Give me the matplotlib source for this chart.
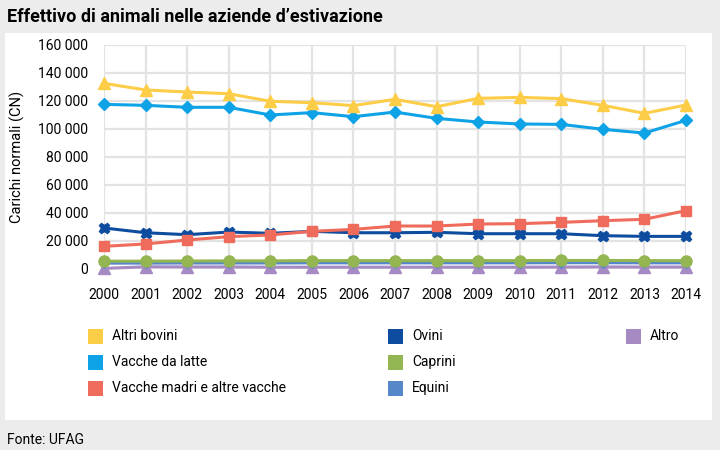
import matplotlib
matplotlib.use("Agg")
import matplotlib.pyplot as plt
from matplotlib.patches import Rectangle
from matplotlib.ticker import FuncFormatter, MultipleLocator
from matplotlib import font_manager

names = {f.name for f in font_manager.fontManager.ttflist}
FAM = ['Liberation Sans Narrow', 'DejaVu Sans'] if 'Liberation Sans Narrow' in names else ['Roboto', 'DejaVu Sans']
plt.rcParams['font.family'] = FAM

years = list(range(2000, 2015))
altri_bovini = [132600, 127900, 126400, 125200, 119800, 118800, 116700, 121200, 115900, 121900, 122600, 121700, 116900, 111200, 117100]
vacche_latte = [117600, 116900, 115500, 115500, 110000, 111700, 108800, 112100, 107600, 105000, 103600, 103300, 99800, 97100, 106200]
vacche_madri = [16200, 17900, 20700, 23100, 24300, 26900, 28300, 30700, 30700, 32100, 32400, 33300, 34500, 35500, 41700]
ovini = [29300, 25900, 24500, 26400, 25500, 26900, 25900, 25900, 26200, 25200, 25200, 25200, 23800, 23300, 23300]
caprini = [5600, 5600, 5700, 5800, 5800, 6000, 6000, 6000, 6000, 6000, 6000, 6100, 6100, 6000, 6000]
equini = [4200, 4200, 4300, 4300, 4300, 4400, 4400, 4400, 4400, 4400, 4400, 4500, 4500, 4400, 4400]
altro = [400, 1600, 1500, 1500, 1300, 1300, 1300, 1300, 1300, 1300, 1300, 1400, 1500, 1400, 1400]

series = [
    ("Altri bovini", altri_bovini, "#FDCD48", "^", 8.5),
    ("Vacche da latte", vacche_latte, "#0EA3E6", "D", 6),
    ("Vacche madri e altre vacche", vacche_madri, "#EF6B5B", "s", 7.5),
    ("Ovini", ovini, "#0D4C9E", "X", 7.5),
    ("Caprini", caprini, "#93B652", "o", 8),
    ("Equini", equini, "#5587C9", "D", 5),
    ("Altro", altro, "#A68AC3", "^", 8.5),
]
draw_order = [6, 5, 4, 3, 2, 1, 0]

W, H = 720, 450
fig = plt.figure(figsize=(7.2, 4.5), dpi=100, facecolor="#ECECEC")
fig.patches.append(Rectangle((5 / W, 1 - 420 / H), 707 / W, 387 / H, transform=fig.transFigure,
                             facecolor="white", edgecolor="none", zorder=-10))

ax = fig.add_axes([104 / W, 1 - 269 / H, (686 - 104) / W, (269 - 45) / H])
ax.set_facecolor("none")
for i in draw_order:
    name, vals, col, mk, ms = series[i]
    ax.plot(years, vals, color=col, lw=2.2, marker=mk, ms=ms, mec=col, mfc=col,
            clip_on=False, zorder=3 + (7 - i) * 0.1)

ax.set_xlim(2000, 2014)
ax.set_ylim(0, 160000)
ax.xaxis.set_major_locator(MultipleLocator(1))
ax.yaxis.set_major_locator(MultipleLocator(20000))
ax.yaxis.set_major_formatter(FuncFormatter(lambda v, p: f"{int(v):,}".replace(",", " ")))
ax.grid(True, color="#E3E3E3", lw=1.6, zorder=0)
ax.set_axisbelow(True)
for s in ax.spines.values():
    s.set_visible(False)
ax.tick_params(length=0, labelsize=10, colors="black")
ax.tick_params(axis="y", pad=11.5)
ax.tick_params(axis="x", pad=14)
ax.set_ylabel("Carichi normali (CN)", fontsize=10.5, labelpad=9)

fig.text(7 / W, 1 - 17 / H, "Effettivo di animali nelle aziende d\u2019estivazione",
         fontsize=13, fontweight="bold", va="center", ha="left")
fig.text(7 / W, 1 - 440 / H, "Fonte: UFAG", fontsize=10, va="center", ha="left")

# legend
col_x = [88, 388, 626]
row_y = [336, 362, 388]
positions = [(0, 0), (0, 1), (0, 2), (1, 0), (1, 1), (1, 2), (2, 0)]
for (name, vals, col, mk, ms), (c, r) in zip(series, positions):
    x0, y0 = col_x[c], row_y[r]
    fig.patches.append(Rectangle((x0 / W, 1 - (y0 + 7.5) / H), 15 / W, 15 / H,
                                 transform=fig.transFigure, facecolor=col, edgecolor="none"))
    fig.text((x0 + 24) / W, 1 - y0 / H, name, fontsize=10, va="center", ha="left")

fig.savefig("out.png", dpi=100, facecolor=fig.get_facecolor())
